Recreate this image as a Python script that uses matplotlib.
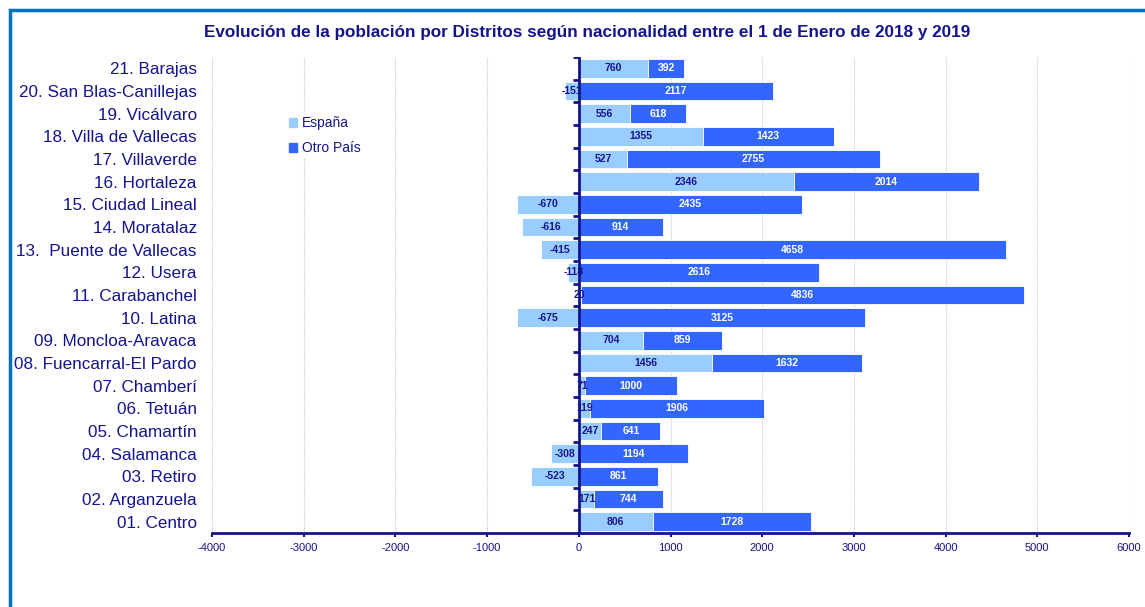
import numpy as np
import matplotlib
matplotlib.use("Agg")
import matplotlib.pyplot as plt
from matplotlib.patches import Rectangle, Patch

plt.rcParams["font.family"] = ["Liberation Sans", "DejaVu Sans"]

NAVY = "#14148C"
ESP_COLOR = "#99CCFF"
OTRO_COLOR = "#3366FF"

# Data (bottom to top)
districts = [
    "01. Centro", "02. Arganzuela", "03. Retiro", "04. Salamanca",
    "05. Chamartín", "06. Tetuán", "07. Chamberí", "08. Fuencarral-El Pardo",
    "09. Moncloa-Aravaca", "10. Latina", "11. Carabanchel", "12. Usera",
    "13.  Puente de Vallecas", "14. Moratalaz", "15. Ciudad Lineal",
    "16. Hortaleza", "17. Villaverde", "18. Villa de Vallecas",
    "19. Vicálvaro", "20. San Blas-Canillejas", "21. Barajas",
]
espana = [806, 171, -523, -308, 247, 119, 71, 1456, 704, -675, 20, -118,
          -415, -616, -670, 2346, 527, 1355, 556, -151, 760]
otro_pais = [1728, 744, 861, 1194, 641, 1906, 1000, 1632, 859, 3125, 4836,
             2616, 4658, 914, 2435, 2014, 2755, 1423, 618, 2117, 392]
x_ticks = list(range(-4000, 6001, 1000))

fig = plt.figure(figsize=(11.45, 6.07), dpi=100)
ax = fig.add_axes([212 / 1145, 1 - 533 / 607, (1129 - 212) / 1145, 476 / 607])

y = np.arange(len(districts))
esp = np.array(espana)
otro = np.array(otro_pais)
# Excel-style stacking: positives stack on positives only
otro_left = np.where(esp > 0, esp, 0)

ax.barh(y, esp, height=0.82, color=ESP_COLOR, edgecolor="white",
        linewidth=0.6, zorder=2, label="España")
ax.barh(y, otro, left=otro_left, height=0.82, color=OTRO_COLOR,
        edgecolor="white", linewidth=0.6, zorder=2, label="Otro País")

for yi, e, o, ol in zip(y, esp, otro, otro_left):
    ax.text(e / 2, yi, f"{e}", ha="center", va="center", fontsize=7.5,
            fontweight="bold", color=NAVY, zorder=3)
    ax.text(ol + o / 2, yi, f"{o}", ha="center", va="center", fontsize=7.5,
            fontweight="bold", color="white", zorder=3)

ax.set_xlim(-4000, 6000)
ax.set_ylim(-0.5, len(districts) - 0.5)
ax.set_xticks(x_ticks)
ax.set_xticklabels([str(t) for t in x_ticks])
ax.tick_params(axis="x", labelsize=8, labelcolor=NAVY, color=NAVY,
               length=3, width=1.5, direction="out", pad=4)
ax.set_yticks(y)
ax.set_yticklabels(districts)
ax.tick_params(axis="y", labelsize=12.3, labelcolor=NAVY, length=0, pad=11)

ax.grid(axis="x", color="#C8C8C8", linestyle=(0, (1, 1)), linewidth=0.8,
        zorder=0)
ax.set_axisbelow(True)
for s in ["top", "right", "left"]:
    ax.spines[s].set_visible(False)
ax.spines["bottom"].set_color(NAVY)
ax.spines["bottom"].set_linewidth(2)

# vertical axis at zero with tick marks between categories
ax.axvline(0, color=NAVY, linewidth=2, zorder=4)
ax.hlines(np.arange(len(districts)) + 0.5, -60, 0, color=NAVY,
          linewidth=2, zorder=4)

ax.legend(handles=[Patch(color=ESP_COLOR, label="España"),
                   Patch(color=OTRO_COLOR, label="Otro País")],
          loc="upper left", bbox_to_anchor=(278 / 1145, 1 - 105 / 607),
          bbox_transform=fig.transFigure, frameon=True, facecolor="white",
          edgecolor="none", framealpha=1, fontsize=10, labelcolor=NAVY,
          handlelength=0.6, handleheight=0.6, handletextpad=0.3,
          labelspacing=0.8, borderpad=0.3)

fig.text(587 / 1145, 1 - 32 / 607,
         "Evolución de la población por Distritos según nacionalidad entre el 1 de Enero de 2018 y 2019",
         ha="center", va="center", fontsize=12.3, fontweight="bold", color=NAVY)

fig.patches.append(Rectangle((10 / 1145, -0.1), 1.2, 1.1 - 10 / 607,
                             transform=fig.transFigure, fill=False,
                             edgecolor="#0070C0", linewidth=2.5))

fig.savefig("out.png", dpi=100)
